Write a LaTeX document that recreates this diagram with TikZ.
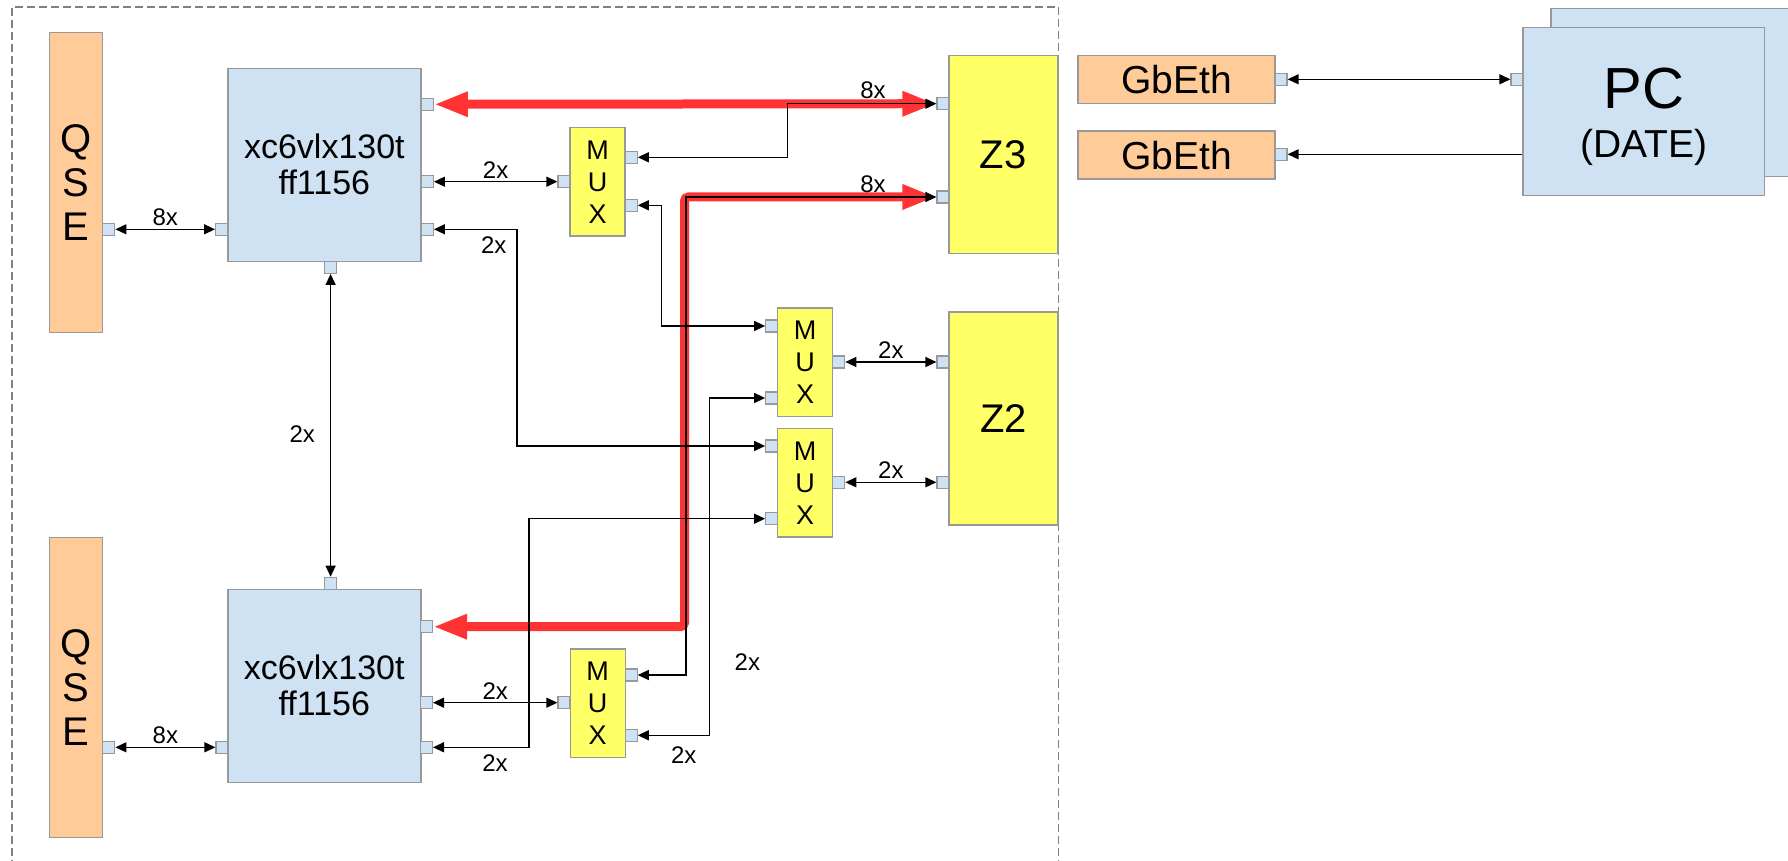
\documentclass[tikz,border=0pt]{standalone}
\usepackage{fontspec}
\setmainfont{Liberation Sans}
\usetikzlibrary{arrows.meta,calc,positioning}
\definecolor{boardblue}{HTML}{CFE2F3}
\definecolor{qseorange}{HTML}{FFCC99}
\definecolor{chipyellow}{HTML}{FFFF66}
\definecolor{edgegray}{HTML}{999999}
\definecolor{linkred}{HTML}{FF3333}

\begin{document}
\begin{tikzpicture}[
  x=0.5pt, y=-0.5pt,
  box/.style={draw=edgegray, line width=0.7pt, inner sep=0pt, align=center},
  fpga/.style={box, fill=boardblue, minimum width=96.5pt, minimum height=96.5pt, font=\fontsize{17}{18}\selectfont},
  qse/.style={box, fill=qseorange, minimum width=26.5pt, minimum height=150.2pt, font=\fontsize{20}{22}\selectfont},
  mux/.style={box, fill=chipyellow, minimum width=27.5pt, minimum height=54.2pt, font=\fontsize{13.5}{16}\selectfont},
  zbox/.style={box, fill=chipyellow, minimum width=54.5pt, font=\fontsize{20}{22}\selectfont},
  gbeth/.style={box, fill=qseorange, minimum width=98.5pt, minimum height=24pt, font=\fontsize{19.5}{22}\selectfont},
  pcbox/.style={box, fill=boardblue, minimum width=120.7pt, minimum height=84pt},
  port/.style={draw=edgegray, line width=0.6pt, fill=boardblue, minimum size=6pt, inner sep=0pt},
  lbl/.style={font=\fontsize{12}{13}\selectfont, inner sep=1.5pt},
  arr/.style={{Triangle[length=5.5pt,width=5pt]}-{Triangle[length=5.5pt,width=5pt]}, line width=0.65pt},
  arrin/.style={-{Triangle[length=5.5pt,width=5pt]}, line width=0.65pt},
  bus/.style={{Triangle[length=17pt,width=11.5pt]}-{Triangle[length=17pt,width=11.5pt]}, line width=4.5pt, linkred, rounded corners=2pt},
  frame/.style={draw=gray, line width=0.6pt, dash pattern=on 4pt off 2pt}
]
\useasboundingbox (0,0) rectangle (1788,861);
\clip (0,0) rectangle (1788,861);

\draw[frame] (12,880) -- (12,7) -- (1058.5,7) -- (1058.5,880);

\node[qse] (qseA) at (76.2,182.5) {Q\\S\\E};
\node[qse] (qseB) at (76.2,687.5) {Q\\S\\E};
\node[fpga] (fpgaA) at (324.4,164.8) {xc6vlx130t\\ff1156};
\node[fpga] (fpgaB) at (324.3,685.8) {xc6vlx130t\\ff1156};
\node[mux] (muxA) at (597.6,182) {M\\U\\X};
\node[mux] (muxB) at (805.1,362.2) {M\\U\\X};
\node[mux] (muxC) at (805.1,482.9) {M\\U\\X};
\node[mux] (muxD) at (597.7,703.3) {M\\U\\X};
\node[zbox, minimum height=99pt] (zthree) at (1003.3,154.3) {Z3};
\node[zbox, minimum height=106.5pt] (ztwo) at (1003.5,418.5) {Z2};
\node[gbeth] (gbA) at (1176.5,79.5) {GbEth};
\node[gbeth] (gbB) at (1176.5,155.2) {GbEth};
\node[pcbox] (pcback) at (1671.5,92.5) {};
\node[pcbox, label={[font=\fontsize{19.5}{24.7}\selectfont, align=center, yshift=-2.6pt]center:{\fontsize{29}{30}\selectfont PC}\\(DATE)}] (pc) at (1643.7,111.7) {};

\node[port] (qseA-p) at (108.8,229.3) {};
\node[port] (fpgaA-l) at (221.6,229.3) {};
\node[port] (fpgaA-r1) at (427.3,104.3) {};
\node[port] (fpgaA-r2) at (427.3,181.7) {};
\node[port] (fpgaA-r3) at (427.3,229.3) {};
\node[port] (fpgaA-b) at (330.6,267.3) {};
\node[port] (fpgaB-t) at (330.6,583.3) {};
\node[port] (qseB-p) at (108.8,747.3) {};
\node[port] (fpgaB-l) at (222,747.3) {};
\node[port] (fpgaB-r1) at (426.4,626.7) {};
\node[port] (fpgaB-r2) at (426.4,702.7) {};
\node[port] (fpgaB-r3) at (426.4,747.3) {};
\node[port] (muxA-l) at (564,181.7) {};
\node[port] (muxA-r1) at (631.2,157.3) {};
\node[port] (muxA-r2) at (631.2,205.3) {};
\node[port] (muxB-l1) at (771.7,326) {};
\node[port] (muxB-l2) at (771.7,398) {};
\node[port] (muxB-r) at (838.7,362) {};
\node[port] (muxC-l1) at (771.7,446) {};
\node[port] (muxC-l2) at (771.7,518.7) {};
\node[port] (muxC-r) at (838.7,482.3) {};
\node[port] (muxD-l) at (564,702.7) {};
\node[port] (muxD-r1) at (631.2,675) {};
\node[port] (muxD-r2) at (631.2,735.3) {};
\node[port] (zthree-p1) at (943,103.7) {};
\node[port] (zthree-p2) at (943,197) {};
\node[port] (ztwo-p1) at (943,362) {};
\node[port] (ztwo-p2) at (943,482.3) {};
\node[port] (gbA-p) at (1281,79.3) {};
\node[port] (gbB-p) at (1281,154.3) {};
\node[port] (pc-p) at (1517,79.3) {};

\draw[bus] (zthree-p1) -- (fpgaA-r1);
\draw[bus] (zthree-p2) -| (684.5,626.7) -- (fpgaB-r1);
\node[lbl] (bwA) at (873,90.7) {8x};
\node[lbl] (bwB) at (873,184) {8x};

\draw[arr] (qseA-p) -- node[lbl, above] (wqA) {8x} (fpgaA-l);
\draw[arr] (fpgaA-r2) -- node[lbl, above] (wmA) {2x} (muxA-l);
\draw[arr] (fpgaA-r3) -| (517,446) -- (muxC-l1);
\node[lbl] (wcA) at (493.7,245) {2x};
\draw[arr] (fpgaA-b) -- node[lbl, left=6pt, pos=0.53] (wff) {2x} (fpgaB-t);
\draw[arr] (zthree-p1) -| (787.5,157.3) -- (muxA-r1);
\draw[arr] (muxA-r2) -| (661.4,326) -- (muxB-l1);
\draw[arr] (zthree-p2) -| (686,675) -- (muxD-r1);
\draw[arr] (muxD-r2) -| (709.5,398) -- (muxB-l2);
\node[lbl] (wdA) at (747.4,661.7) {2x};
\node[lbl] (wdB) at (683.7,755) {2x};
\draw[arr] (fpgaB-r3) -| (529,518.7) -- (muxC-l2);
\node[lbl] (wcB) at (495,763.3) {2x};
\draw[arr] (muxB-r) -- node[lbl, above] (wzA) {2x} (ztwo-p1);
\draw[arr] (muxC-r) -- node[lbl, above] (wzB) {2x} (ztwo-p2);
\draw[arr] (qseB-p) -- node[lbl, above] (wqB) {8x} (fpgaB-l);
\draw[arr] (fpgaB-r2) -- node[lbl, above] (wmD) {2x} (muxD-l);

\draw[arr] (gbA-p) -- (pc-p);
\draw[arrin] (pc.west |- gbB-p) -- (gbB-p);
\end{tikzpicture}
\end{document}
